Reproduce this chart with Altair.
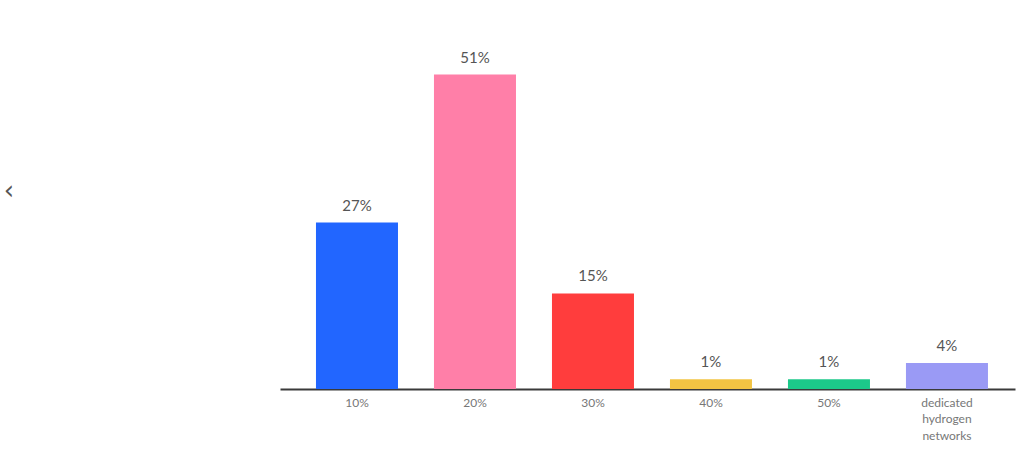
import altair as alt
import pandas as pd

categories = ["10%", "20%", "30%", "40%", "50%", "dedicated hydrogen networks"]
bar_values = [27, 51, 15.5, 1.6, 1.6, 4.2]
value_labels = ["27%", "51%", "15%", "1%", "1%", "4%"]
colors = ["#2266ff", "#ff7fa8", "#ff3d3d", "#f2c443", "#1cc98a", "#9a9af5"]

df = pd.DataFrame({"cat": categories, "v": bar_values, "lab": value_labels, "col": colors})

x = alt.X("cat:N", sort=categories, title=None,
          scale=alt.Scale(paddingInner=0.305, paddingOuter=0.267, align=0.571),
          axis=alt.Axis(labelAngle=0, ticks=False, domain=True, domainColor="#3a3a3a",
                        domainWidth=2, labelColor="#777777", labelFontSize=12,
                        labelFont="Lato", labelPadding=8, labelLineHeight=16.5,
                        labelLimit=200, grid=False,
                        labelExpr="split(datum.label, ' ')"))
y = alt.Y("v:Q", scale=alt.Scale(domain=[0, 60]), axis=None, title=None)

base = alt.Chart(df)
bars = base.mark_bar().encode(x=x, y=y, color=alt.Color("col:N", scale=None))
text = base.mark_text(dy=-9, fontSize=15, color="#555555", font="Lato", baseline="bottom").encode(
    x=alt.X("cat:N", sort=categories), y="v:Q", text="lab:N")

arrow = alt.Chart(pd.DataFrame({"t": ["‹"]})).mark_text(
    fontSize=26, color="#555555", font="DejaVu Sans", align="center", baseline="middle").encode(
    x=alt.value(-271), y=alt.value(172), text="t:N")

chart = alt.layer(bars, text, arrow).properties(
    width=735, height=370,
    background="white",
    autosize=alt.AutoSizeParams(type="none"),
    padding={"left": 280, "top": 19, "right": 3, "bottom": 80},
).configure_view(strokeWidth=0, stroke="transparent")

chart.save("out.html", embed_options={"renderer": "svg", "actions": False})
